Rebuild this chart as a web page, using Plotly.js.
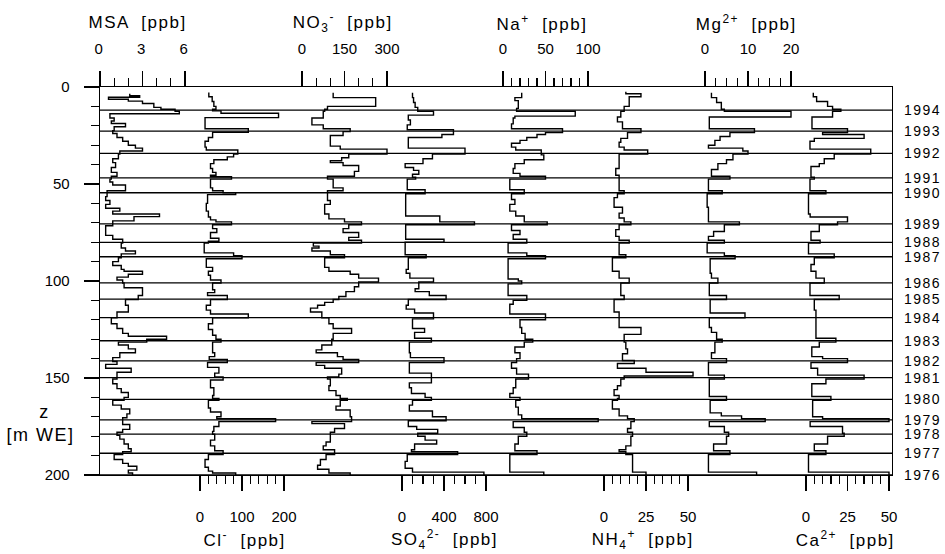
<!DOCTYPE html>
<html><head><meta charset="utf-8">
<script src="https://cdn.plot.ly/plotly-3.0.1.min.js"></script>
<style>
html,body{margin:0;padding:0;background:#fff;}
#chart{width:945px;height:554px;}
#chart g.xaxislayer-above text{letter-spacing:2.5px;}
#chart .annotation-text{letter-spacing:1.5px;}
</style></head><body><div id="chart"></div>
<script>
// ---------------- DATA (depth z in m WE, concentrations in ppb) ----------------
const years     = [1994,1993,1992,1991,1990,1989,1988,1987,1986,1985,1984,1983,1982,1981,1980,1979,1978,1977,1976];
const yearDepth = [11.9,22.7,34.2,46.8,54.5,70.6,80.1,87.5,101.0,109.3,118.9,130.8,141.2,149.8,161.0,171.6,178.9,188.8,200];

const msaZ = [3.5,4.5,5.3,6.3,7.3,8.5,10.5,11.5,12.5,13.8,16,17.5,18.8,20.5,22.5,24,26,28,30,31.5,33,34.5,37,39,41.5,44,46,47.5,49,50.5,53.5,56.5,58.5,60.5,62.5,64,65.5,66.8,69,71.5,76.5,78.5,80.5,83,84.5,86,88,90,92,94,95,96.5,98,99.5,101,103.5,107.5,109.5,112.5,116,119,122,124.5,127,128.5,130,131.5,133,135,137,139.5,141.5,143,145,147,150.5,153,155.5,157.5,160,161.5,164,166,168.5,170.5,174,176.5,178,179.5,181.5,184,186.5,188,189.5,192,194,195.5,197.5,199,200];
const msaV = [2.1,2.8,0.6,2.0,3.0,3.8,4.3,5.3,5.6,0.7,1.0,0.8,1.8,1.0,0.9,1.2,1.6,2.0,2.5,3.0,1.4,1.3,0.9,1.1,0.8,1.2,0.8,0.7,0.9,1.8,0.5,0.4,0.7,0.4,1.4,0.9,4.2,2.4,0.9,0.4,0.9,1.6,1.5,1.8,2.5,1.5,1.3,0.9,1.5,1.7,3.0,2.0,1.2,1.6,1.7,3.0,2.7,1.8,2.0,1.2,0.8,1.2,1.6,2.0,4.7,3.3,1.3,2.0,2.5,1.4,0.9,1.2,0.4,2.2,1.2,0.9,1.2,1.5,2.0,1.7,0.9,1.5,2.1,1.9,1.6,2.1,1.6,1.2,1.4,1.7,2.0,2.2,1.6,1.0,1.6,2.0,2.6,2.0,2.3,2.3];

const clZ = [2.8,5,7.5,10,11.5,12.3,13.5,15.8,21.5,23.3,26,28,31,32.5,34.5,36,37.5,39.5,42,44,45.5,46.3,47.5,52,53.5,54.5,55.5,60,64,67,68.5,69.5,71,73,75,78,79.5,80.5,85.5,87,88.5,93,95,97,99.5,101,104.5,106,107.5,109.5,112.5,115,117,119,122,125,128,130,131.5,137,139,140.5,142,144.5,147.5,149.5,151,155,159,160.5,161.5,165.5,167.5,170,171,172.5,175,177.5,179,182,185,187.5,189.5,192,196,198,199,200];
const clV = [21,29,33,38,30,50,187,12,115,30,20,12,15,90,80,65,33,25,30,38,25,75,25,30,55,85,18,15,20,25,38,75,30,40,25,45,20,10,80,100,15,30,20,25,50,30,35,18,65,25,15,25,115,30,20,30,38,50,30,35,22,65,18,45,35,55,25,33,30,45,20,25,50,40,180,45,33,30,35,25,35,55,20,12,20,30,85,85];

const no3Z = [3,5.5,10,11.5,12.5,16,19.5,21.5,23,25,30.5,32,34.5,36.5,38,39,40.5,43.5,46,47.5,52,53.5,55,58.5,60.5,65.5,68,69.5,71,73,75,77.5,79,80.5,82,83,84.5,86.5,88,93,95,96.5,98.5,100.5,103,105.5,108,109.5,111,112.5,114,116,119,122,124.5,127,130,133,135.5,137,139,140.5,142,143.5,145,148,149.5,150.5,154,156.5,159,160.5,161.5,164.5,166.5,170,172.5,173.5,176,178,179.5,183,185,187,189.5,192,195,197,199,200];
const no3V = [110,260,90,80,75,35,75,170,145,100,135,300,165,140,100,145,200,185,90,110,145,90,90,100,80,95,150,210,165,145,200,165,210,40,60,35,100,150,80,95,170,200,270,200,185,155,130,110,80,55,30,70,95,110,175,110,105,70,50,125,145,200,50,80,140,130,90,100,95,120,135,160,135,120,170,175,35,150,115,100,100,85,75,115,85,65,55,95,170,170];

const so4Z = [3,5.5,8,10.5,12.5,14.5,17,19.5,22,24.5,26,31.5,34.5,37,39.5,41.5,43,45,46.5,47.5,53,55,66.5,69.5,71,78.5,80,86.5,88,94,96,98.5,100.5,104,105.5,107.5,109.5,112.5,114.5,116.5,119.5,124.5,126.5,129.5,131.5,137,139.5,142,147.5,152.5,155,158,160,161.5,164,167,170,172,175,176.5,178.5,180,182,184,187,188,189.5,193,196.5,198.5,200];
const so4V = [100,110,125,150,300,60,80,50,490,380,60,600,290,200,30,110,160,100,130,50,220,35,360,690,35,400,30,230,60,40,75,300,160,125,260,420,60,40,120,300,100,215,120,280,70,80,400,70,280,70,90,220,280,100,70,290,420,60,140,340,150,220,330,120,90,530,50,30,100,780,780];

const naZ = [3,5.5,7,11,12.5,15,16,19,21.5,23.5,24.5,26,27.5,29,31,32.5,35,37.5,39.5,42,44.5,46,47.5,53,55,58,60.5,64,66.5,69.5,71,74,76,78.5,80.5,85.5,87,88.5,99,100,101.5,107.5,110,112,117,120,124,127,130,131.5,134,137,140,142,145,148,150.5,155,158,160,161.5,165,169,171,172.5,175.5,178,180,184,187.5,189.5,198.5,200];
const naV = [22,14,18,16,85,14,12,10,70,50,40,28,20,10,15,45,48,25,14,12,20,50,8,25,10,14,8,15,25,52,10,20,12,28,6,28,50,6,18,22,6,28,12,8,50,20,22,26,35,25,14,20,16,10,16,30,15,12,8,20,15,18,22,112,12,25,28,18,14,40,8,48,48];

const nh4Z = [2.5,3.5,5,10,12.5,15.5,18,21.5,23.5,26.5,28.5,31,32.5,34.5,42,45.5,53.5,55,57,62,65,67.5,69.5,71,73.5,77,79,80.5,86.5,88,95,98.5,101,107.5,109.5,116,124,127.5,131.5,135,137.5,141,142.5,145,147,149,150.5,154,156,159,160.5,161.5,166,169.5,171,172.5,176,178,180,185,187,188,189.5,198.5,200];
const nh4V = [13,22,15,12,10,8,11,22,14,10,9,12,26,9,7,9,12,8,6,11,9,12,16,9,7,9,15,9,13,5,9,15,10,12,6,9,22,12,13,14,11,18,8,25,53,12,10,8,6,9,8,5,9,14,18,16,14,17,16,13,9,13,17,25,25];

const mgZ = [3,5.5,8,11.5,12.5,15.5,21.5,23.5,25.5,27.5,30,31.5,33,34.5,37.5,39.5,42.5,46,47.5,53.5,55,62,69.5,71,74.5,77,79,80.5,85.5,87,88.5,96,98.5,101,107.5,109.5,116.5,119,124,126.5,130,131.5,137,140,142,148.5,150.5,159.5,161.5,168,169.5,171,172.5,175,178,180,184,187.5,189.5,198.5,200];
const mgV = [1.5,2.7,3.8,4.5,20,1.0,11.5,5.8,3.5,2.3,0.8,8.8,10,6.5,5.0,3.0,1.5,5.8,0.8,4.0,0.5,0.8,8.0,4.5,2.0,0.8,4.5,0.5,4.5,7.0,1.2,1.5,3.0,1.0,5.0,1.2,9.3,1.0,1.5,2.7,4.0,2.3,1.5,5.0,0.8,4.5,1.0,5.0,1.2,3.8,8.5,14,1.0,4.5,5.5,5.0,2.0,5.8,0.8,12,12];

const caZ = [3,5,7.5,10,11.5,12.5,15.5,21.5,23.5,24.5,26.5,28,32,34.5,37,39.5,41,46.5,47.5,53.5,55,65.5,67,69.5,71,74.5,79,80.5,86,88,91.5,95,98.5,101,107.5,109.5,115,129.5,131.5,134,139,140,142,145,148.5,150.5,153,159.5,161.5,170,171,172.5,175,178.5,180,184,187.5,189.5,198.5,200];
const caV = [4.4,6.4,13,16,21,16,3.6,25,10,35,5,2.4,39,17,11,8,3,5,2.4,12,1.5,2.5,25,19,8,3,8.5,1.5,17,5,3,6,11,2.4,20,5,6,18,8,3.5,10,25,3,7,35,12,3.5,15,4,10,50,2.5,22,23,13,5,12,1.5,50,50];

// tick labels of the eight concentration scales and the depth scale
const msaTicks = [0,3,6],     msaMinor = [1,2,4,5];
const clTicks  = [0,100,200], clMinor  = [20,40,60,80,120,140,160,180];
const no3Ticks = [0,150,300], no3Minor = [50,100,200,250];
const so4Ticks = [0,400,800], so4Minor = [100,200,300,500,600,700];
const naTicks  = [0,50,100],  naMinor  = [10,20,30,40,60,70,80,90];
const nh4Ticks = [0,25,50],   nh4Minor = [5,10,15,20,30,35,40,45];
const mgTicks  = [0,10,20],   mgMinor  = [2.5,5,7.5,12.5,15,17.5];
const caTicks  = [0,25,50],   caMinor  = [5,10,15,20,30,35,40,45];
const depthTicks = [0,50,100,150,200];

// ---------------- LAYOUT ----------------
const L = 100, R = 892, T = 87, B = 475, PW = R - L, PH = B - T;
const FONT = 'Liberation Sans, Arial, Helvetica, sans-serif';
const BLK = '#000';

const series = [
  {z:msaZ, v:msaV, side:'top',    zeroPx:100, fullPx:185, ticks:msaTicks, minor:msaMinor, title:'MSA  [ppb]', tx:95},
  {z:clZ,  v:clV,  side:'bottom', zeroPx:200, fullPx:284, ticks:clTicks,  minor:clMinor,  title:'Cl<sup>-</sup>  [ppb]', tx:210},
  {z:no3Z, v:no3V, side:'top',    zeroPx:302, fullPx:387, ticks:no3Ticks, minor:no3Minor, title:'NO<sub>3</sub><sup>-</sup>  [ppb]', tx:300},
  {z:so4Z, v:so4V, side:'bottom', zeroPx:402, fullPx:486, ticks:so4Ticks, minor:so4Minor, title:'SO<sub>4</sub><sup>2-</sup>  [ppb]', tx:399},
  {z:naZ,  v:naV,  side:'top',    zeroPx:503, fullPx:588, ticks:naTicks,  minor:naMinor,  title:'Na<sup>+</sup>  [ppb]', tx:503},
  {z:nh4Z, v:nh4V, side:'bottom', zeroPx:604, fullPx:688, ticks:nh4Ticks, minor:nh4Minor, title:'NH<sub>4</sub><sup>+</sup>  [ppb]', tx:599},
  {z:mgZ,  v:mgV,  side:'top',    zeroPx:705, fullPx:791, ticks:mgTicks,  minor:mgMinor,  title:'Mg<sup>2+</sup>  [ppb]', tx:703},
  {z:caZ,  v:caV,  side:'bottom', zeroPx:806, fullPx:889, ticks:caTicks,  minor:caMinor,  title:'Ca<sup>2+</sup>  [ppb]', tx:803}
];

const traces = series.map((s, i) => ({
  type:'scatter', mode:'lines', x:s.v, y:s.z, xaxis: i === 0 ? 'x' : 'x' + (i+1), yaxis:'y',
  line:{shape:'vh', color:BLK, width:1.4}, hoverinfo:'skip', showlegend:false
}));

const layout = {
  width:945, height:554,
  margin:{l:L, r:945-R, t:T, b:554-B, pad:0},
  paper_bgcolor:'#fff', plot_bgcolor:'#fff',
  showlegend:false,
  font:{family:FONT, color:BLK, size:15},
  yaxis:{
    range:[200,0], tickmode:'array', tickvals:depthTicks,
    ticks:'outside', ticklen:15, tickwidth:1.3, tickcolor:BLK,
    minor:{dtick:10, tick0:0, ticks:'outside', ticklen:8, tickwidth:1.3, tickcolor:BLK},
    showline:true, mirror:true, linecolor:BLK, linewidth:1.3,
    showgrid:false, zeroline:false, tickfont:{family:FONT, size:15, color:BLK},
    ticklabelstandoff:11
  },
  shapes: yearDepth.map(d => ({type:'line', xref:'paper', x0:0, x1:1, yref:'y', y0:d, y1:d,
                               line:{color:BLK, width:1.3}, layer:'above'})),
  annotations: years.map((yr, i) => ({
    text:String(yr), xref:'paper', yref:'y', x:1 + 14/PW, y:yearDepth[i],
    xanchor:'left', yanchor:'middle', showarrow:false, borderpad:0,
    font:{family:FONT, size:14, color:BLK}
  }))
};

series.forEach((s, i) => {
  const full = s.ticks[s.ticks.length-1];
  const k = (s.fullPx - s.zeroPx) / full;           // px per ppb
  const range = [(L - s.zeroPx)/k, (R - s.zeroPx)/k];
  const key = i === 0 ? 'xaxis' : 'xaxis' + (i+1);
  const ax = {
    range, side:s.side, anchor:'y',
    tickmode:'array', tickvals:s.ticks,
    ticks:'outside', ticklen:15, tickwidth:1.3, tickcolor:BLK,
    minor:{tickmode:'array', tickvals:s.minor, ticks:'outside', ticklen:8, tickwidth:1.3, tickcolor:BLK},
    showgrid:false, zeroline:false,
    showline: i === 0, mirror: i === 0, linecolor:BLK, linewidth:1.3,
    tickfont:{family:FONT, size:15, color:BLK},
    ticklabelstandoff: s.side === 'top' ? 11 : 13
  };
  if (i > 0) ax.overlaying = 'x';
  layout[key] = ax;
  const ypx = s.side === 'top' ? 23 : 539;
  layout.annotations.push({
    text:s.title, xref:'paper', yref:'paper',
    x:(s.tx - L)/PW, y:(B - ypx)/PH, xanchor:'left', yanchor:'middle',
    showarrow:false, borderpad:0, font:{family:FONT, size:17, color:BLK}
  });
});

layout.annotations.push(
  {text:'z', xref:'paper', yref:'paper', x:(44 - L)/PW, y:(B - 412)/PH, xanchor:'center', yanchor:'middle',
   showarrow:false, font:{family:FONT, size:18, color:BLK}},
  {text:'[m WE]', xref:'paper', yref:'paper', x:(40 - L)/PW, y:(B - 435)/PH, xanchor:'center', yanchor:'middle',
   showarrow:false, font:{family:FONT, size:18, color:BLK}}
);

Plotly.newPlot('chart', traces, layout, {displayModeBar:false, staticPlot:true});
</script></body></html>
